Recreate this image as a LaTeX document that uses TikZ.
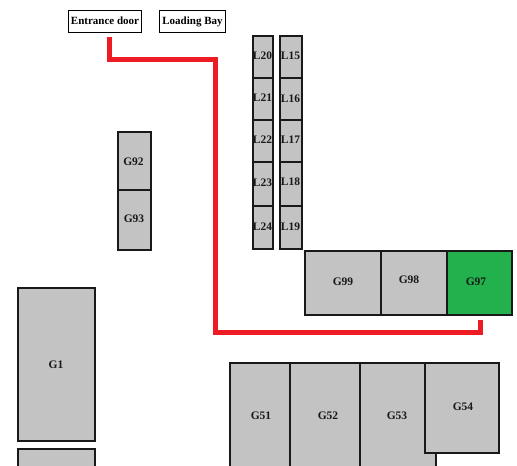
\documentclass[tikz,border=0pt]{standalone}
\usepackage{fontspec}
\setmainfont{Liberation Serif}
\tikzset{
  roombox/.style={draw=black!90,line width=1.5pt,fill=roomgrey},
  roomtext/.style={font=\fontsize{11.5}{12}\selectfont\bfseries,inner sep=0pt,text=black!90},
  signbox/.style={draw=black,line width=1.5pt,fill=white,font=\fontsize{11}{12}\selectfont\bfseries,inner sep=0pt,minimum height=22pt,text height=7.5pt,text depth=2.5pt,text=black},
  route/.style={draw=routered,line width=5pt,line join=miter,line cap=butt}
}
\definecolor{roomgrey}{RGB}{195,195,195}
\definecolor{routered}{RGB}{237,28,36}
\definecolor{doneGreen}{RGB}{34,177,76}
\newcommand{\room}[7][roomgrey]{%
  \path[roombox,fill=#1] (#2,#3) rectangle (#4,#5);
  \node[roomtext] (#6) at ({#7}) {\MakeUppercase{#6}};}
\begin{document}
\begin{tikzpicture}[x=1pt,y=-1pt]
\useasboundingbox (0,0) rectangle (517,466);
\clip (0,0) rectangle (517,466);
\fill[white] (0,0) rectangle (517,466);
% signs
\node[signbox,minimum width=73pt] (entrance) at (105,21.5) {Entrance door};
\node[signbox,minimum width=66pt] (loading) at (192.5,21.5) {Loading Bay};
% L columns
\room{253}{36}{273}{78}{l20}{262.5,56}
\room{253}{78}{273}{120}{l21}{262.5,98}
\room{253}{120}{273}{162}{l22}{262.5,140}
\room{253}{162}{273}{206}{l23}{262.5,183}
\room{253}{206}{273}{249}{l24}{262.5,227}
\room{280}{36}{302}{78}{l15}{290.5,56}
\room{280}{78}{302}{120}{l16}{290.5,99}
\room{280}{120}{302}{162}{l17}{290.5,140}
\room{280}{162}{302}{206}{l18}{290.5,182}
\room{280}{206}{302}{249}{l19}{290.5,227}
% G92-93
\room{118}{132}{151}{190}{g92}{133.5,162}
\room{118}{190}{151}{250}{g93}{134,219}
% G97-99
\room{305}{251}{381}{315}{g99}{343,282}
\room{381}{251}{447}{315}{g98}{409,279.5}
\room[doneGreen]{447}{251}{512}{315}{g97}{476,281.5}
% G51-54
\room{230}{363}{290}{480}{g51}{261,415.5}
\room{290}{363}{360}{480}{g52}{328,415.5}
\room{360}{363}{436}{480}{g53}{397,415.5}
\room{425}{363}{499}{453}{g54}{463,407}
% G1
\room{18}{288}{95}{441}{g1}{56,365}
\path[roombox] (18,449) rectangle (95,480);
% route
\coordinate (routestart) at (109,37);
\coordinate (routeend) at (480,320);
\draw[route] (routestart) -- (109,59) -- (215,59) -- (215,332) -- (480,332) -- (routeend);
\end{tikzpicture}
\end{document}
